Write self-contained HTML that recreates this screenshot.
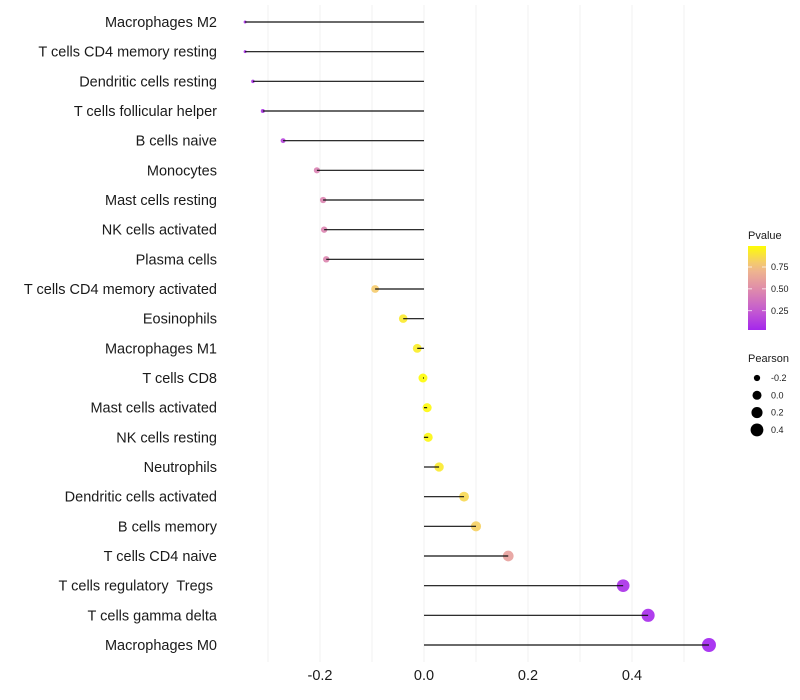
<!DOCTYPE html>
<html><head><meta charset="utf-8"><style>
body{margin:0;background:#fff;font-family:"Liberation Sans",sans-serif}
svg{display:block}
text{white-space:pre}
</style></head><body>
<svg id="chart" width="800" height="700"></svg>
<script>
const categories=["Macrophages M2","T cells CD4 memory resting","Dendritic cells resting","T cells follicular helper","B cells naive","Monocytes","Mast cells resting","NK cells activated","Plasma cells","T cells CD4 memory activated","Eosinophils","Macrophages M1","T cells CD8","Mast cells activated","NK cells resting","Neutrophils","Dendritic cells activated","B cells memory","T cells CD4 naive","T cells regulatory  Tregs ","T cells gamma delta","Macrophages M0"];
const pearson=[-0.344,-0.344,-0.329,-0.310,-0.271,-0.206,-0.194,-0.192,-0.188,-0.094,-0.040,-0.013,-0.002,0.006,0.008,0.029,0.077,0.100,0.162,0.383,0.431,0.548];
const pvalue=[0.06,0.06,0.07,0.08,0.15,0.45,0.46,0.46,0.47,0.80,0.92,0.93,0.99,0.98,0.97,0.92,0.85,0.82,0.60,0.06,0.04,0.01];
const xTicks=[-0.2,0.0,0.2,0.4];
const xTickLabels=["-0.2","0.0","0.2","0.4"];
const xGrid=[-0.3,-0.2,-0.1,0,0.1,0.2,0.3,0.4,0.5];
const pLegend=[0.25,0.5,0.75];
const sizeLegend=[-0.2,0.0,0.2,0.4];

const NS="http://www.w3.org/2000/svg";
const svg=document.getElementById('chart');
function mk(t,a,p){const e=document.createElementNS(NS,t);for(const k in a)e.setAttribute(k,a[k]);(p||svg).appendChild(e);return e;}
const x=v=>424+v*520;
const y=i=>22+i*(623/21);
const rOf=v=>Math.sqrt(Math.max(1,2.25+52.4*(v+0.344)));
const stops=[[0,[160,32,240]],[0.25,[196,90,208]],[0.5,[223,140,170]],[0.75,[242,190,136]],[1,[255,255,0]]];
function col(p){for(let i=1;i<stops.length;i++){if(p<=stops[i][0]){const a=stops[i-1],b=stops[i],t=(p-a[0])/(b[0]-a[0]);return 'rgb('+a[1].map((c,j)=>Math.round(c+(b[1][j]-c)*t)).join(',')+')';}}return 'rgb(255,255,0)';}

xGrid.forEach(v=>{const l=mk('line',{x1:x(v),x2:x(v),y1:5,y2:662,stroke:'#f0f0f0','stroke-width':1});

});

categories.forEach((c,i)=>{
 const t=mk('text',{x:217,y:y(i)+5,'text-anchor':'end','font-size':14.5,fill:'#1a1a1a'});t.textContent=c;
 
 
 const d=mk('circle',{cx:x(pearson[i]),cy:y(i),r:rOf(pearson[i]),fill:col(pvalue[i]),opacity:0.9});
 
 
 const s=mk('line',{x1:x(0),x2:x(pearson[i]),y1:y(i),y2:y(i),stroke:'#111','stroke-width':1.2});
 
 
});
xTicks.forEach((v,i)=>{const t=mk('text',{x:x(v),y:680,'text-anchor':'middle','font-size':14.5,fill:'#1a1a1a'});t.textContent=xTickLabels[i];
 
 });

const g=mk('g',{});
const lt=mk('text',{x:748,y:239,'font-size':11,fill:'#1a1a1a'},g);lt.textContent='Pvalue';
const defs=mk('defs',{},g);const lg=mk('linearGradient',{id:'pg',x1:0,y1:1,x2:0,y2:0},defs);
for(let k=0;k<=10;k++){mk('stop',{offset:k/10,'stop-color':col(0.03+k*0.096)},lg);}
const bar=mk('rect',{x:748,y:246,width:18,height:84,fill:'url(#pg)'},g);


const py=p=>330-(p-0.03)*(84/0.96);
pLegend.forEach(p=>{mk('line',{x1:748,x2:752,y1:py(p),y2:py(p),stroke:'#fff','stroke-width':0.7},g);mk('line',{x1:762,x2:766,y1:py(p),y2:py(p),stroke:'#fff','stroke-width':0.7},g);
 const t=mk('text',{x:771,y:py(p)+3,'font-size':9,fill:'#1a1a1a'},g);t.textContent=p.toFixed(2);});
const st=mk('text',{x:748,y:362,'font-size':11,fill:'#1a1a1a'},g);st.textContent='Pearson';
sizeLegend.forEach((v,i)=>{const cy=378+i*17.3;mk('circle',{cx:757,cy:cy,r:rOf(v),fill:'#000'},g);
 const t=mk('text',{x:771,y:cy+3,'font-size':9,fill:'#1a1a1a'},g);t.textContent=v.toFixed(1);});
</script>
</body></html>
